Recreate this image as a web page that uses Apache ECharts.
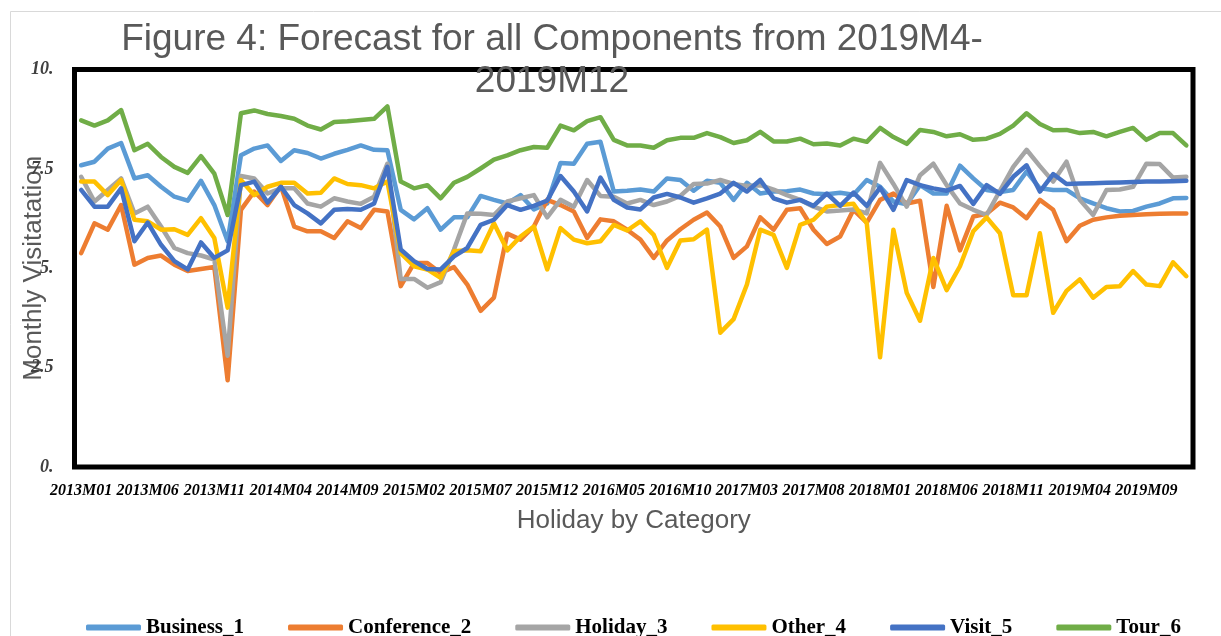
<!DOCTYPE html>
<html>
<head>
<meta charset="utf-8">
<script src="https://cdn.jsdelivr.net/npm/echarts@6/dist/echarts.min.js"></script>
<style>
  html, body { margin: 0; padding: 0; background: #ffffff; }
  #chart { width: 1221px; height: 636px; }
</style>
</head>
<body>
<div id="chart"></div>
<script>
const categories = [
  '2013M01','2013M02','2013M03','2013M04','2013M05','2013M06','2013M07','2013M08','2013M09','2013M10','2013M11','2013M12',
  '2014M01','2014M02','2014M03','2014M04','2014M05','2014M06','2014M07','2014M08','2014M09','2014M10','2014M11','2014M12',
  '2015M01','2015M02','2015M03','2015M04','2015M05','2015M06','2015M07','2015M08','2015M09','2015M10','2015M11','2015M12',
  '2016M01','2016M02','2016M03','2016M04','2016M05','2016M06','2016M07','2016M08','2016M09','2016M10','2016M11','2016M12',
  '2017M01','2017M02','2017M03','2017M04','2017M05','2017M06','2017M07','2017M08','2017M09','2017M10','2017M11','2017M12',
  '2018M01','2018M02','2018M03','2018M04','2018M05','2018M06','2018M07','2018M08','2018M09','2018M10','2018M11','2018M12',
  '2019M01','2019M02','2019M03','2019M04','2019M05','2019M06','2019M07','2019M08','2019M09','2019M10','2019M11','2019M12'
];

const business1 = [
  7.59,7.68,8.01,8.15,7.26,7.34,7.05,6.80,6.70,7.20,6.59,5.68,
  7.84,8.01,8.09,7.70,7.97,7.90,7.76,7.88,7.98,8.09,7.98,7.97,
  6.47,6.23,6.51,5.97,6.28,6.28,6.82,6.72,6.63,6.84,6.48,6.63,
  7.65,7.63,8.13,8.18,6.93,6.95,6.98,6.93,7.26,7.22,6.95,7.20,
  7.15,6.72,7.15,6.88,6.93,6.94,6.98,6.88,6.86,6.90,6.85,7.22,
  7.05,6.68,6.61,7.09,6.88,6.88,7.58,7.26,6.97,6.92,6.97,7.43,
  7.01,6.97,6.97,6.76,6.63,6.51,6.43,6.44,6.55,6.63,6.76,6.77
];
const conference2 = [
  5.38,6.13,5.97,6.59,5.09,5.26,5.32,5.09,4.93,4.98,5.03,2.18,
  6.47,6.93,6.59,7.07,6.05,5.93,5.93,5.76,6.18,6.01,6.47,6.43,
  4.55,5.13,5.13,4.88,5.03,4.59,3.93,4.26,5.87,5.72,6.05,6.72,
  6.59,6.43,5.76,6.23,6.18,5.97,5.72,5.26,5.70,5.98,6.22,6.40,
  6.05,5.26,5.55,6.28,5.97,6.47,6.51,5.97,5.61,5.80,6.47,6.15,
  6.72,6.88,6.63,6.70,4.53,6.57,5.45,6.30,6.37,6.65,6.53,6.26,
  6.72,6.47,5.68,6.07,6.22,6.28,6.32,6.34,6.36,6.37,6.38,6.38
];
const holiday3 = [
  7.30,6.68,6.97,7.26,6.38,6.55,6.05,5.51,5.38,5.32,5.22,2.80,
  7.32,7.26,6.88,7.01,7.01,6.63,6.55,6.76,6.68,6.62,6.80,7.63,
  4.73,4.73,4.51,4.65,5.47,6.38,6.37,6.34,6.68,6.76,6.84,6.28,
  6.72,6.55,7.22,6.82,6.80,6.63,6.72,6.59,6.68,6.82,7.12,7.13,
  7.22,7.12,7.07,7.09,6.98,6.84,6.72,6.55,6.43,6.45,6.48,6.38,
  7.65,7.12,6.55,7.34,7.63,7.09,6.63,6.47,6.34,6.95,7.55,7.98,
  7.57,7.18,7.68,6.72,6.34,6.97,6.98,7.05,7.63,7.62,7.28,7.30
];
const other4 = [
  7.18,7.18,6.84,7.22,6.22,6.18,5.97,5.98,5.84,6.26,5.76,4.01,
  7.22,6.84,7.05,7.15,7.15,6.88,6.90,7.26,7.12,7.09,7.01,7.18,
  5.38,5.05,4.97,4.76,5.43,5.45,5.43,6.13,5.45,5.80,6.05,4.97,
  6.01,5.72,5.63,5.68,6.09,5.95,6.18,5.84,5.01,5.70,5.73,5.97,
  3.38,3.72,4.59,5.97,5.84,5.01,6.09,6.22,6.55,6.59,6.62,6.13,
  2.76,5.97,4.38,3.68,5.26,4.45,5.05,5.93,6.28,5.88,4.32,4.32,
  5.88,3.88,4.43,4.72,4.26,4.53,4.55,4.93,4.59,4.55,5.15,4.80
];
const visit5 = [
  6.97,6.55,6.55,7.01,5.68,6.15,5.59,5.18,4.97,5.65,5.26,5.45,
  7.09,7.18,6.65,7.05,6.59,6.38,6.13,6.47,6.49,6.47,6.63,7.55,
  5.47,5.18,4.98,4.97,5.30,5.51,6.09,6.22,6.59,6.47,6.57,6.70,
  7.32,6.93,6.43,7.28,6.72,6.53,6.48,6.78,6.87,6.78,6.65,6.76,
  6.88,7.15,6.93,7.22,6.76,6.65,6.72,6.57,6.88,6.57,6.90,6.57,
  7.03,6.47,7.22,7.09,7.01,6.95,7.07,6.62,7.09,6.87,7.30,7.59,
  6.93,7.37,7.12,7.13,7.14,7.15,7.16,7.17,7.18,7.18,7.19,7.20
];
const tour6 = [
  8.72,8.59,8.72,8.98,7.97,8.13,7.80,7.55,7.40,7.82,7.38,6.34,
  8.90,8.97,8.88,8.83,8.76,8.59,8.49,8.68,8.70,8.73,8.76,9.07,
  7.18,7.01,7.09,6.76,7.15,7.30,7.51,7.73,7.84,7.97,8.05,8.03,
  8.59,8.47,8.70,8.80,8.23,8.09,8.09,8.03,8.22,8.28,8.28,8.40,
  8.30,8.15,8.22,8.43,8.19,8.19,8.26,8.12,8.14,8.09,8.26,8.18,
  8.53,8.30,8.13,8.48,8.43,8.32,8.37,8.23,8.26,8.38,8.59,8.90,
  8.63,8.47,8.48,8.40,8.43,8.32,8.43,8.53,8.23,8.40,8.40,8.09
];

const seriesNames = ['Business_1','Conference_2','Holiday_3','Other_4','Visit_5','Tour_6'];
const seriesColors = ['#5B9BD5','#ED7D31','#A5A5A5','#FFC000','#4472C4','#70AD47'];
const seriesData = [business1, conference2, holiday3, other4, visit5, tour6];

const yTickLabels = { '0': '0.', '2.5': '2.5', '5': '5.', '7.5': '7.5', '10': '10.' };

const chart = echarts.init(document.getElementById('chart'), null, { renderer: 'canvas' });

const option = {
  backgroundColor: '#ffffff',
  animation: false,
  title: {
    text: 'Figure 4: Forecast for all Components from 2019M4-\n2019M12',
    left: 552,
    top: 19,
    padding: 0,
    textAlign: 'center',
    textStyle: {
      fontFamily: 'Liberation Sans',
      fontSize: 37,
      fontWeight: 'normal',
      color: '#595959',
      lineHeight: 42
    }
  },
  graphic: [{
    type: 'rect',
    silent: true,
    z: -10,
    shape: { x: 10.5, y: 11.5, width: 1300, height: 700 },
    style: { fill: 'none', stroke: '#d9d9d9', lineWidth: 1 }
  }],
  legend: {
    left: 86,
    top: 617,
    padding: 0,
    itemWidth: 55,
    itemHeight: 6,
    itemGap: 44,
    icon: 'roundRect',
    data: seriesNames,
    textStyle: {
      fontFamily: 'Liberation Serif',
      fontWeight: 'bold',
      fontSize: 21,
      color: '#000000'
    }
  },
  grid: {
    left: 74.5,
    right: 28,
    top: 69.5,
    bottom: 169,
    containLabel: false,
    outerBoundsMode: 'none',
    show: true,
    borderColor: '#000000',
    borderWidth: 5,
    backgroundColor: 'transparent'
  },
  xAxis: {
    type: 'category',
    data: categories,
    boundaryGap: true,
    axisLine: { show: false },
    axisTick: { show: false },
    splitLine: { show: false },
    axisLabel: {
      interval: 4,
      margin: 16,
      fontFamily: 'Liberation Serif',
      fontStyle: 'italic',
      fontWeight: 'bold',
      fontSize: 16,
      color: '#000000'
    },
    name: 'Holiday by Category',
    nameLocation: 'middle',
    nameGap: 41,
    nameMoveOverlap: false,
    nameTextStyle: {
      fontFamily: 'Liberation Sans',
      fontSize: 26,
      color: '#595959'
    }
  },
  yAxis: {
    type: 'value',
    min: 0,
    max: 10,
    interval: 2.5,
    axisLine: { show: false },
    axisTick: { show: false },
    splitLine: { show: false },
    axisLabel: {
      margin: 21,
      fontFamily: 'Liberation Serif',
      fontStyle: 'italic',
      fontWeight: 'bold',
      fontSize: 18,
      color: '#404040',
      formatter: function (v) { return yTickLabels[String(v)] !== undefined ? yTickLabels[String(v)] : String(v); }
    },
    name: 'Monthly Visitatation',
    nameLocation: 'middle',
    nameRotate: 90,
    nameGap: 28,
    nameMoveOverlap: false,
    nameTextStyle: {
      fontFamily: 'Liberation Sans',
      fontSize: 26,
      color: '#595959'
    }
  },
  series: seriesNames.map(function (name, i) {
    return {
      name: name,
      type: 'line',
      data: seriesData[i],
      symbol: 'none',
      showSymbol: false,
      smooth: false,
      color: seriesColors[i],
      lineStyle: { width: 4.5, color: seriesColors[i], cap: 'round', join: 'round' },
      itemStyle: { color: seriesColors[i] },
      emphasis: { disabled: true }
    };
  })
};

chart.setOption(option);
</script>
</body>
</html>
